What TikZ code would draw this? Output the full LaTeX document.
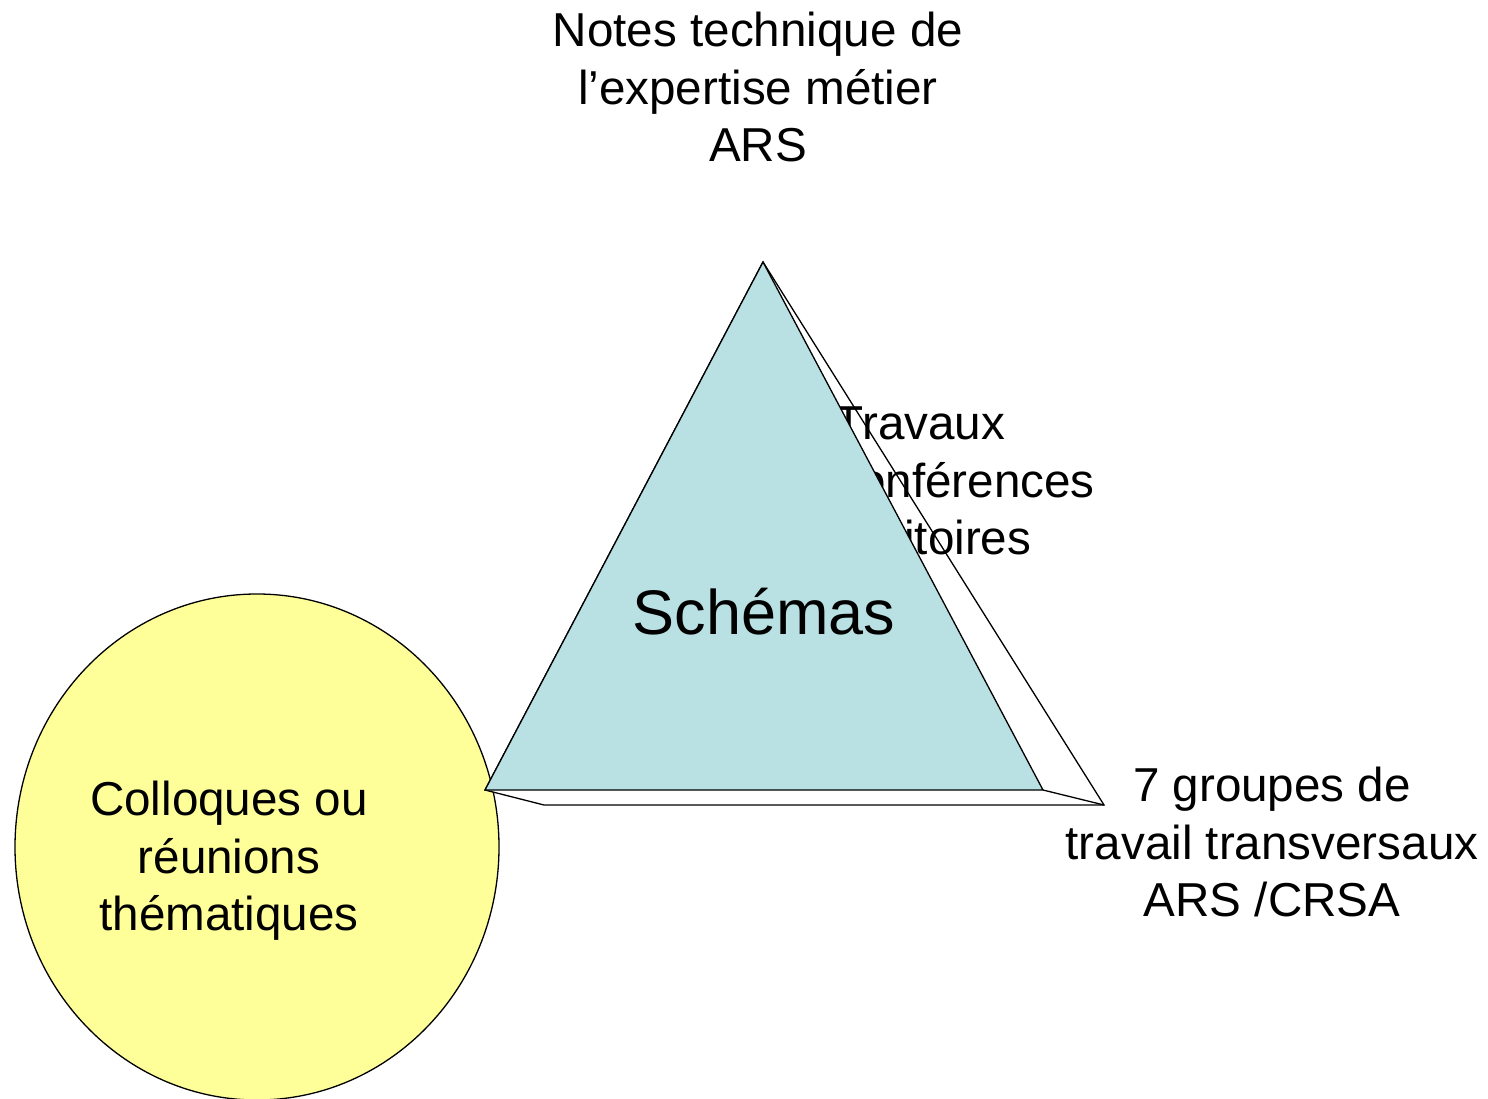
\documentclass[tikz,border=0pt]{standalone}
\usepackage{fontspec}
\setmainfont{Liberation Sans}
\usetikzlibrary{shapes.geometric}
\definecolor{bleupyr}{RGB}{185,224,227}
\definecolor{jaunebulle}{RGB}{255,255,153}
\tikzset{
  texte/.style   = {align=center, inner sep=0pt,
                    font=\fontsize{47.6}{57.5}\selectfont},
  titre/.style   = {texte, font=\fontsize{63}{70}\selectfont},
  bulle/.style   = {ellipse, draw, fill=jaunebulle, line width=1.3pt,
                    minimum width=484pt, minimum height=506pt},
  pyramide/.style = {draw, fill=bleupyr, line width=1.3pt, line join=miter},
  ombre/.style   = {draw, fill=white, line width=1.3pt, line join=miter}
}

\begin{document}
\begin{tikzpicture}[x=1pt,y={(0pt,-1pt)}]
  \useasboundingbox (0,0) rectangle (1488,1099);
  % cercle jaune
  \node[bulle] (cercle) at (257,847) {};
  \node[texte] (colloques) at (229,861) {Colloques ou\\réunions\\thématiques};
  % pyramide et son ombre
  \coordinate (sommet) at (763,262);
  \coordinate (gauche) at (485,790);
  \coordinate (droite) at (1043,790);
  \coordinate (ombreG) at (544,805);
  \coordinate (ombreD) at (1104,805);
  \path[ombre] (sommet) -- (ombreD) -- (ombreG) -- (gauche) -- cycle;
  \draw[line width=1.3pt] (droite) -- (ombreD);
  \node[texte] (travaux) at (920,481) {Travaux\\des conférences\\\hspace*{24pt}territoires};
  \path[pyramide] (sommet) -- (droite) -- (gauche) -- cycle;
  \node[titre] (schemas) at (764,612) {Schémas};
  % textes autour
  \node[texte] (notes) at (758,87) {Notes technique de\\l’expertise métier\\ARS};
  \node[texte] (groupes) at (1272,842) {7 groupes de\\travail transversaux\\ARS /CRSA};
\end{tikzpicture}
\end{document}
